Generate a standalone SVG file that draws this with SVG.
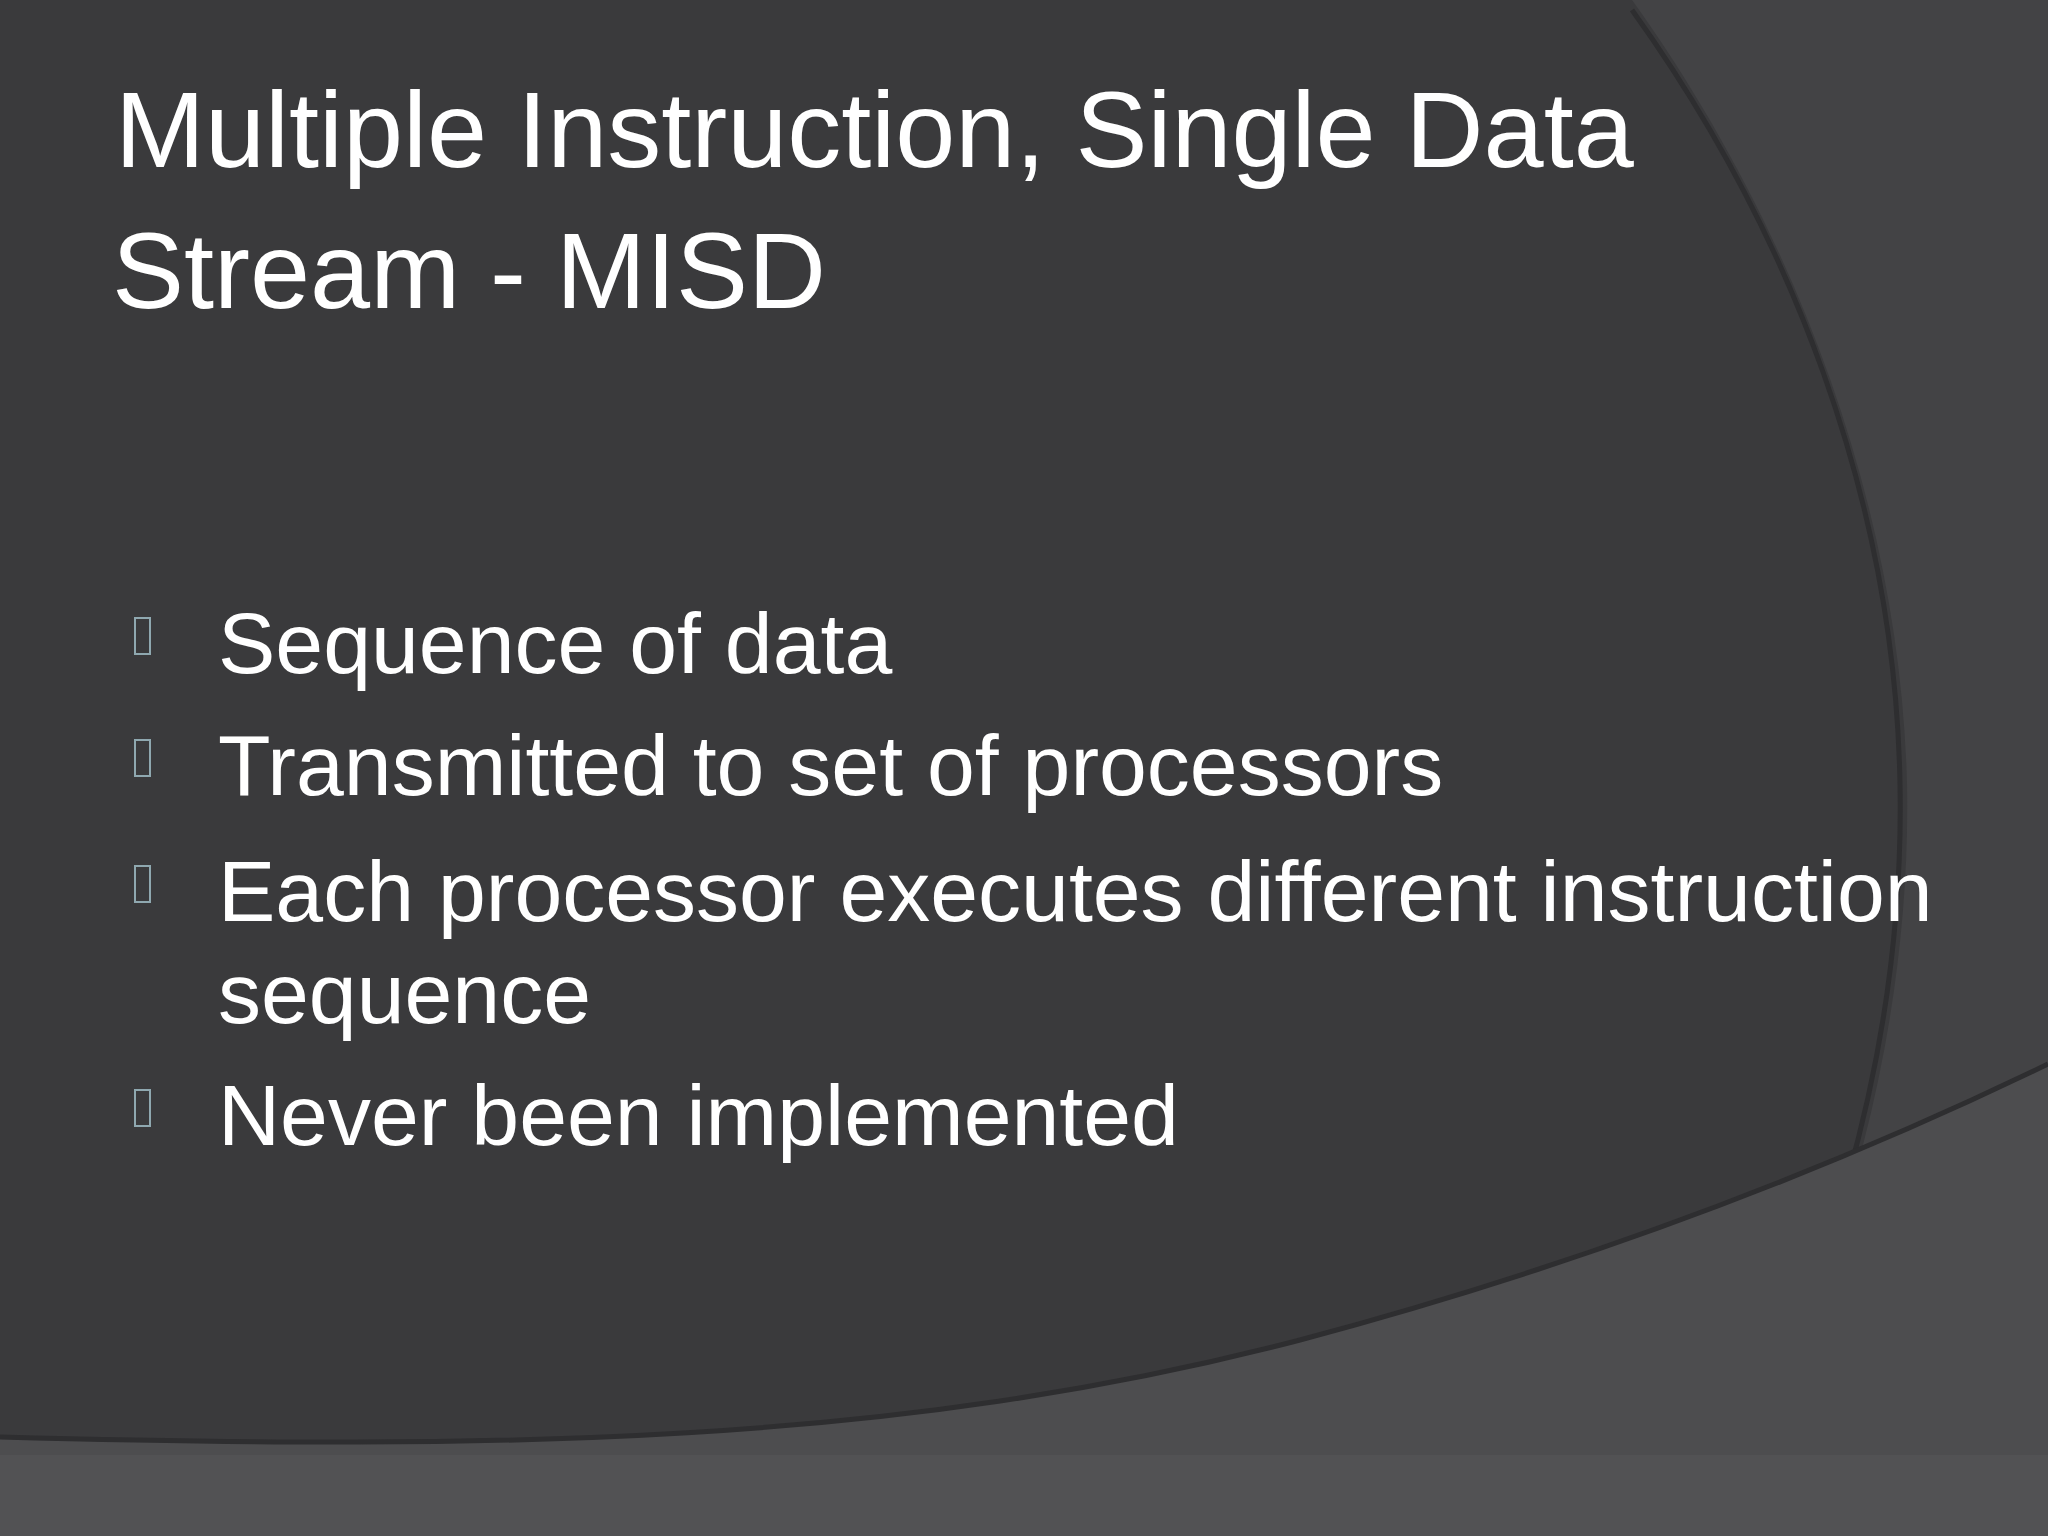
<svg xmlns="http://www.w3.org/2000/svg" width="2048" height="1536" viewBox="0 0 2048 1536">
<style>
.t{font-family:"Liberation Sans",Arial,sans-serif;fill:#ffffff}
.b{fill:none;stroke:#8fa8b0;stroke-width:2}
</style>
<rect width="2048" height="1536" fill="#3a3a3c"/>
<path d="M1632,0 C1790,220 1900,500 1907,784 C1912,1050 1830,1320 1698,1536 L2048,1536 L2048,0 Z" fill="#434345"/>
<path d="M1632,10 C1790,230 1895,500 1900,784 C1905,1050 1825,1320 1690,1536" fill="none" stroke="#2e2e30" stroke-width="5"/>
<path d="M0,1437 C500,1450 900,1445 1300,1340 C1600,1260 1850,1160 2048,1064 L2048,1536 L0,1536 Z" fill="#4d4d4f"/>
<path d="M0,1437 C500,1450 900,1445 1300,1340 C1600,1260 1850,1160 2048,1064" fill="none" stroke="#2e2e30" stroke-width="5"/>
<rect x="0" y="1455" width="2048" height="81" fill="#525254"/>
<g id="title">
<text class="t" x="115" y="167" font-size="108">Multiple Instruction, Single Data</text>
<text class="t" x="112" y="308" font-size="108">Stream - MISD</text>
</g>
<g id="bullets">
<rect class="b" x="135" y="618" width="15" height="36"/>
<rect class="b" x="135" y="740" width="15" height="36"/>
<rect class="b" x="135" y="866" width="15" height="36"/>
<rect class="b" x="135" y="1090" width="15" height="36"/>
<text class="t" x="218" y="673" font-size="86">Sequence of data</text>
<text class="t" x="218" y="795" font-size="86">Transmitted to set of processors</text>
<text class="t" x="218" y="921" font-size="86">Each processor executes different instruction</text>
<text class="t" x="218" y="1023" font-size="86">sequence</text>
<text class="t" x="218" y="1145" font-size="86">Never been implemented</text>
</g>
</svg>
